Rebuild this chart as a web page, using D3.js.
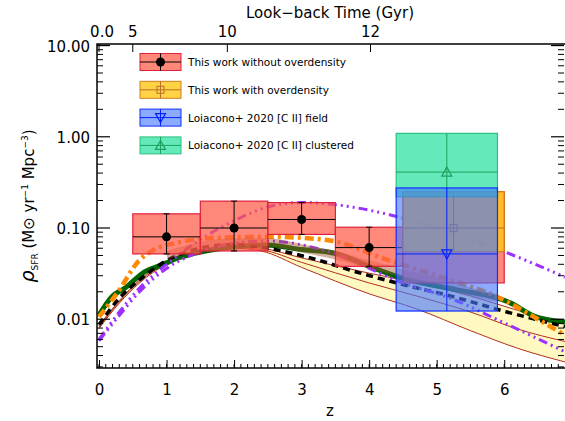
<!DOCTYPE html>
<html>
<head>
<meta charset="utf-8">
<script src="https://cdn.jsdelivr.net/npm/d3@7"></script>
<style>
  body { margin: 0; background: #fff; }
  text { font-family: "DejaVu Sans", sans-serif; }
</style>
</head>
<body>
<div id="chart"></div>
<script>
// curves: [z, rho]
var greenLine = [[0,0.0111],[0.19,0.0177],[0.385,0.022],[0.68,0.0333],[0.93,0.0394],[1.17,0.0469],[1.52,0.055],[2.0,0.062],[2.48,0.0651],[3.0,0.058],[3.47,0.0533],[4.0,0.038],[4.5,0.028],[5.3,0.021],[5.89,0.0171],[6.09,0.0151],[6.43,0.0109],[6.9,0.0093]];
var blackDash = [[0,0.0087],[0.3,0.017],[0.6,0.027],[1.0,0.044],[1.5,0.06],[2.0,0.066],[2.5,0.06],[3.13,0.047],[3.87,0.032],[4.5,0.024],[5.2,0.018],[6.04,0.012],[6.9,0.0083]];
var orangeDash = [[0,0.0106],[0.27,0.0194],[0.6,0.0446],[0.8,0.057],[1.2,0.07],[1.7,0.078],[2.53,0.08],[3.37,0.074],[4.26,0.045],[5.0,0.03],[5.94,0.017],[6.43,0.0107],[6.9,0.0067]];
var purpleHigh = [[0,0.006],[0.3,0.012],[0.6,0.022],[1.0,0.04],[1.5,0.075],[2.0,0.12],[2.5,0.17],[3.0,0.19],[3.5,0.18],[4.3,0.14],[5.0,0.1],[6.0,0.055],[6.9,0.029]];
var purpleLow = [[0,0.0058],[0.3,0.011],[0.6,0.02],[1.0,0.036],[1.5,0.055],[2.0,0.068],[2.5,0.072],[3.4,0.055],[4.5,0.025],[5.2,0.017],[6.0,0.0091],[6.9,0.0044]];
var bandUpper = [[0,0.0085],[0.3,0.016],[0.6,0.027],[1.0,0.042],[1.5,0.055],[2.0,0.062],[2.4,0.06],[3.0,0.047],[4.0,0.032],[4.7,0.025],[5.5,0.018],[6.2,0.0125],[6.9,0.0092]];
var bandMiddle = [[0,0.0082],[0.3,0.0155],[0.6,0.026],[1.0,0.041],[1.5,0.054],[2.0,0.061],[2.4,0.058],[3.0,0.042],[4.0,0.025],[4.7,0.018],[5.5,0.012],[6.2,0.0078],[6.9,0.0057]];
var bandLower = [[0,0.0079],[0.3,0.015],[0.6,0.025],[1.0,0.04],[1.5,0.053],[2.0,0.06],[2.4,0.056],[3.0,0.037],[4.0,0.019],[4.7,0.013],[5.5,0.0075],[6.2,0.0048],[6.9,0.0034]];
var tanLine = [[1.0,0.05],[1.5,0.064],[2.0,0.07],[2.5,0.07],[3.0,0.06],[3.5,0.05],[4.0,0.04],[4.5,0.032],[5.0,0.026],[5.5,0.02],[5.9,0.017]];

// boxes: z range, lo, hi, point (z, value)
var noOverdensity = [
  {z0:0.5, z1:1.5, lo:0.052, hi:0.143, zp:1, v:0.08},
  {z0:1.5, z1:2.5, lo:0.056, hi:0.197, zp:2, v:0.10},
  {z0:2.5, z1:3.5, lo:0.085, hi:0.19, zp:3, v:0.124},
  {z0:3.5, z1:4.5, lo:0.038, hi:0.102, zp:4, v:0.061},
  {z0:4.5, z1:6.0, lo:0.025, hi:0.25, zp:null, v:null}
];
var withOverdensity = [{z0:4.5, z1:6.0, lo:0.055, hi:0.25, zp:5.25, v:0.1}];
var ciiField = [{z0:4.4, z1:5.9, lo:0.0123, hi:0.275, zp:5.15, v:0.052}];
var ciiClustered = [{z0:4.4, z1:5.9, lo:0.22, hi:1.09, zp:5.15, v:0.41}];

var yTicks = [0.01, 0.1, 1, 10];
var yTickLabels = ["0.01", "0.10", "1.00", "10.00"];
var lookbackLabels = ["0.0", "5", "10", "12"];
var lookbackZ = [0, 0.5, 1.9, 4.02];
var legendLabels = ["This work without overdensity", "This work with overdensity",
  "Loiacono+ 2020 [C II] field", "Loiacono+ 2020 [C II] clustered"];

var W = 565, H = 421;
var svg = d3.select("#chart").append("svg").attr("width", W).attr("height", H);

var x = d3.scaleLinear().domain([-0.03, 6.9]).range([97, 565]);
var y = d3.scaleLog().domain([0.00292, 10.4]).range([368, 44]);

var plot = svg.append("g");
plot.append("clipPath").attr("id", "clip").append("rect")
  .attr("x", 97).attr("y", 44).attr("width", 468).attr("height", 324);
var g = plot.append("g").attr("clip-path", "url(#clip)");

var line = d3.line().x(function(d){ return x(d[0]); }).y(function(d){ return y(d[1]); }).curve(d3.curveMonotoneX);

// yellow band
var bandArea = d3.area().x(function(d){ return x(d[0]); })
  .y0(function(d, i){ return y(bandLower[i][1]); })
  .y1(function(d){ return y(d[1]); }).curve(d3.curveMonotoneX);
g.append("path").datum(bandUpper).attr("d", bandArea).attr("fill", "#fff8c0");
[bandUpper, bandMiddle, bandLower].forEach(function(b){
  g.append("path").datum(b).attr("d", line).attr("fill", "none").attr("stroke", "#b03020").attr("stroke-width", 1);
});

g.append("path").datum(greenLine).attr("d", line).attr("fill", "none")
  .attr("stroke", "#006400").attr("stroke-width", 5);
g.append("path").datum(blackDash).attr("d", line).attr("fill", "none")
  .attr("stroke", "#000").attr("stroke-width", 3.5).attr("stroke-dasharray", "7,5");
g.append("path").datum(purpleLow).attr("d", line).attr("fill", "none")
  .attr("stroke", "#9b30ff").attr("stroke-width", 3).attr("stroke-dasharray", "9,4,2,4,2,4,2,4");
g.append("path").datum(purpleHigh).attr("d", line).attr("fill", "none")
  .attr("stroke", "#9b30ff").attr("stroke-width", 3).attr("stroke-dasharray", "9,4,2,4,2,4,2,4");
g.append("path").datum(orangeDash).attr("d", line).attr("fill", "none")
  .attr("stroke", "#ff8c00").attr("stroke-width", 4.5).attr("stroke-dasharray", "9,4,3,4");
g.append("path").datum(tanLine).attr("d", line).attr("fill", "none")
  .attr("stroke", "#a0522d").attr("stroke-width", 8).attr("stroke-opacity", 0.45);

function drawBoxes(data, fill, stroke, marker) {
  data.forEach(function(d){
    g.append("rect").attr("x", x(d.z0)).attr("y", y(d.hi))
      .attr("width", x(d.z1) - x(d.z0)).attr("height", y(d.lo) - y(d.hi))
      .attr("fill", fill).attr("stroke", stroke).attr("stroke-width", 1.2);
    if (d.v == null) return;
    g.append("line").attr("x1", x(d.z0)).attr("x2", x(d.z1)).attr("y1", y(d.v)).attr("y2", y(d.v))
      .attr("stroke", marker.color).attr("stroke-width", 1);
    g.append("line").attr("x1", x(d.zp)).attr("x2", x(d.zp)).attr("y1", y(d.hi)).attr("y2", y(d.lo))
      .attr("stroke", marker.color).attr("stroke-width", 1);
    drawMarker(g, marker, x(d.zp), y(d.v));
  });
}
function drawMarker(sel, m, cx, cy) {
  if (m.type == "dot") {
    sel.append("circle").attr("cx", cx).attr("cy", cy).attr("r", 4.5).attr("fill", "#000");
  } else if (m.type == "square") {
    sel.append("rect").attr("x", cx - 3.5).attr("y", cy - 3.5).attr("width", 7).attr("height", 7)
      .attr("fill", "none").attr("stroke", m.color);
  } else if (m.type == "down") {
    sel.append("path").attr("d", "M" + (cx - 5) + "," + (cy - 4) + "L" + (cx + 5) + "," + (cy - 4) + "L" + cx + "," + (cy + 5) + "Z")
      .attr("fill", "none").attr("stroke", m.color).attr("stroke-width", 1.2);
  } else {
    sel.append("path").attr("d", "M" + (cx - 5) + "," + (cy + 4) + "L" + (cx + 5) + "," + (cy + 4) + "L" + cx + "," + (cy - 5) + "Z")
      .attr("fill", "none").attr("stroke", m.color).attr("stroke-width", 1.2);
  }
}

var markers = [
  {type: "dot", color: "#000", fill: "rgba(255,90,70,0.72)", stroke: "#e0203c"},
  {type: "square", color: "#b8702a", fill: "rgba(255,200,20,0.8)", stroke: "#d08020"},
  {type: "down", color: "#0020ff", fill: "rgba(70,120,255,0.62)", stroke: "#1030ff"},
  {type: "up", color: "#20a060", fill: "rgba(40,225,160,0.72)", stroke: "#30c080"}
];
drawBoxes(noOverdensity, markers[0].fill, markers[0].stroke, markers[0]);
drawBoxes(withOverdensity, markers[1].fill, markers[1].stroke, markers[1]);
drawBoxes(ciiClustered, markers[3].fill, markers[3].stroke, markers[3]);
drawBoxes(ciiField, markers[2].fill, markers[2].stroke, markers[2]);
// red error caps
noOverdensity.forEach(function(d){
  if (d.v == null) return;
  [d.hi, d.lo].forEach(function(v){
    g.append("line").attr("x1", x(d.zp) - 3).attr("x2", x(d.zp) + 3).attr("y1", y(v)).attr("y2", y(v)).attr("stroke", "#000");
  });
});

// legend
legendLabels.forEach(function(t, i){
  var ly = 62 + i * 27.8, m = markers[i];
  svg.append("rect").attr("x", 140).attr("y", ly - 8.5).attr("width", 41).attr("height", 17)
    .attr("fill", m.fill).attr("stroke", m.stroke);
  svg.append("line").attr("x1", 140).attr("x2", 181).attr("y1", ly).attr("y2", ly).attr("stroke", m.color);
  svg.append("line").attr("x1", 160.5).attr("x2", 160.5).attr("y1", ly - 8.5).attr("y2", ly + 8.5).attr("stroke", m.color);
  drawMarker(svg, m, 160.5, ly);
  svg.append("text").attr("x", 188).attr("y", ly + 4).attr("font-size", 10.5).text(t);
});

// frame and axes
svg.append("rect").attr("x", 97).attr("y", 44).attr("width", 470).attr("height", 324)
  .attr("fill", "none").attr("stroke", "#000").attr("stroke-width", 1.5);

var minorY = [];
[0.001, 0.01, 0.1, 1].forEach(function(d){ for (var k = 2; k <= 9; k++) minorY.push(d * k); });
minorY = minorY.filter(function(v){ return v > 0.0029 && v < 10.4; });
[[97, 1], [564, -1]].forEach(function(s){
  yTicks.forEach(function(v){
    svg.append("line").attr("x1", s[0]).attr("x2", s[0] + s[1] * 13).attr("y1", y(v)).attr("y2", y(v)).attr("stroke", "#000").attr("stroke-width", 1.2);
  });
  minorY.forEach(function(v){
    svg.append("line").attr("x1", s[0]).attr("x2", s[0] + s[1] * 6).attr("y1", y(v)).attr("y2", y(v)).attr("stroke", "#000");
  });
});
yTicks.forEach(function(v, i){
  svg.append("text").attr("x", 90).attr("y", y(v) + 6).attr("text-anchor", "end").attr("font-size", 15).text(yTickLabels[i]);
});

var xAxis = d3.axisBottom(x).tickValues(d3.range(0, 7)).tickSize(-8).tickFormat(d3.format("d"));
var gx = svg.append("g").attr("transform", "translate(0,368)").call(xAxis);
gx.select(".domain").remove();
gx.selectAll("text").attr("font-size", 15).attr("dy", "1.6em").attr("font-family", "DejaVu Sans");
d3.range(0, 69).forEach(function(i){
  svg.append("line").attr("x1", x(i / 10)).attr("x2", x(i / 10)).attr("y1", 368).attr("y2", 364).attr("stroke", "#000");
});

lookbackZ.forEach(function(z, i){
  svg.append("line").attr("x1", x(z)).attr("x2", x(z)).attr("y1", 44).attr("y2", 52).attr("stroke", "#000");
  svg.append("text").attr("x", x(z) + (i == 0 ? 3 : 0)).attr("y", 37).attr("text-anchor", "middle").attr("font-size", 15).text(lookbackLabels[i]);
});
svg.append("text").attr("x", 330).attr("y", 18).attr("text-anchor", "middle").attr("font-size", 15).text("Look\u2212back Time (Gyr)");
svg.append("text").attr("x", 330).attr("y", 416).attr("text-anchor", "middle").attr("font-size", 15).text("z");

var yl = svg.append("text").attr("transform", "translate(34,206) rotate(-90)").attr("text-anchor", "middle").attr("font-size", 15);
yl.append("tspan").attr("font-style", "italic").attr("font-size", 19).text("\u03C1");
yl.append("tspan").attr("font-size", 9).attr("dy", 4).text("SFR");
yl.append("tspan").attr("dy", -4).text(" (M\u2299 yr");
yl.append("tspan").attr("font-size", 9).attr("dy", -6).text("\u22121");
yl.append("tspan").attr("dy", 6).text(" Mpc");
yl.append("tspan").attr("font-size", 9).attr("dy", -6).text("\u22123");
yl.append("tspan").attr("dy", 6).text(")");
</script>
</body>
</html>
